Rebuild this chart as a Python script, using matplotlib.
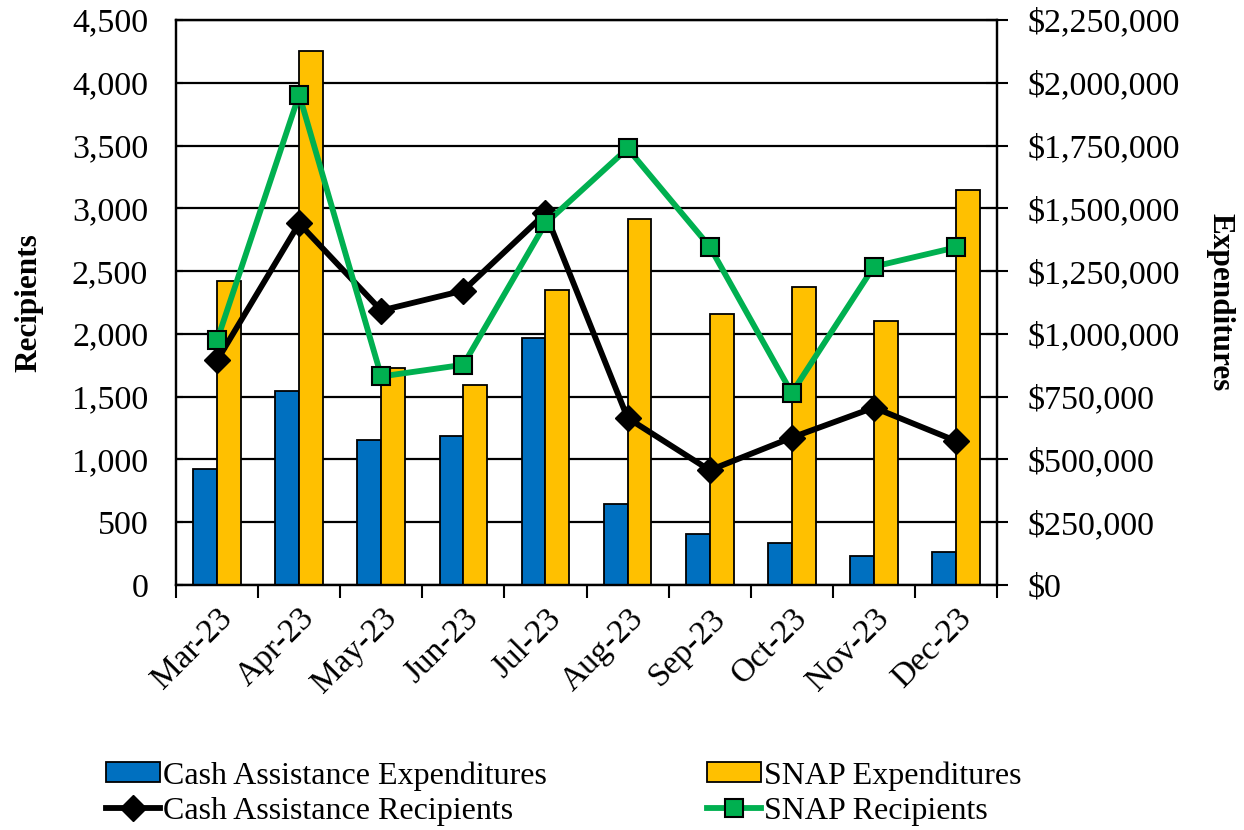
import numpy as np
import matplotlib
matplotlib.use("Agg")
import matplotlib.pyplot as plt
from matplotlib.ticker import FuncFormatter, MultipleLocator, FixedLocator
from matplotlib.lines import Line2D
from matplotlib.patches import Patch

plt.rcParams['font.family'] = ['Liberation Serif', 'DejaVu Serif']

months = ["Mar-23", "Apr-23", "May-23", "Jun-23", "Jul-23",
          "Aug-23", "Sep-23", "Oct-23", "Nov-23", "Dec-23"]
cash_exp = [461000, 771000, 576000, 593000, 982000,
            321000, 204000, 166000, 116000, 132000]
snap_exp = [1209000, 2125000, 865000, 798000, 1176000,
            1457000, 1078000, 1188000, 1050000, 1573000]
cash_rec = [1789, 2880, 2186, 2345, 2960, 1330, 914, 1174, 1413, 1147]
snap_rec = [1948, 3906, 1661, 1754, 2880, 3477, 2695, 1529, 2536, 2689]

BLUE = "#0070C0"
GOLD = "#FFC000"
GREEN = "#00B050"

fig = plt.figure(figsize=(12.44, 8.3), dpi=100)
ax = fig.add_axes([0.1415, 0.2952, 0.66, 0.6807])  # expenditures (bars)
ax2 = ax.twinx()  # recipients (lines)

x = np.arange(len(months))
w = 0.29
ax.bar(x - w / 2, cash_exp, w, color=BLUE, edgecolor="black", linewidth=1.3, zorder=2)
ax.bar(x + w / 2, snap_exp, w, color=GOLD, edgecolor="black", linewidth=1.3, zorder=2)
ax.set_ylim(0, 2250000)
ax.yaxis.set_major_locator(MultipleLocator(250000))
ax.yaxis.set_major_formatter(FuncFormatter(lambda v, p: "${:,.0f}".format(v)))
ax.yaxis.tick_right()
ax.yaxis.set_label_position("right")
ax.grid(axis="y", color="black", linewidth=1.6)
ax.set_axisbelow(True)
ax.set_xlim(-0.5, len(months) - 0.5)
ax.set_xticks(x)
ax.set_xticklabels(months, rotation=45, ha="right", rotation_mode="anchor", fontsize=24)
ax.tick_params(axis="x", which="major", length=0, pad=13)
ax.xaxis.set_minor_locator(FixedLocator(np.arange(-0.5, len(months), 1.0)))
ax.tick_params(axis="x", which="minor", length=9, width=1.5, direction="out")
ax.tick_params(axis="y", labelsize=24.5, length=16, width=1.5, direction="inout", pad=14)

ax2.plot(x, cash_rec, color="black", linewidth=4.2, marker="D", markersize=13,
         markerfacecolor="black", markeredgecolor="black", zorder=3)
ax2.plot(x, snap_rec, color=GREEN, linewidth=4.2, marker="s", markersize=13.5,
         markerfacecolor=GREEN, markeredgecolor="black", markeredgewidth=1.5, zorder=4)
ax2.set_ylim(0, 4500)
ax2.yaxis.set_major_locator(MultipleLocator(500))
ax2.yaxis.set_major_formatter(FuncFormatter(lambda v, p: "{:,.0f}".format(v)))
ax2.yaxis.tick_left()
ax2.yaxis.set_label_position("left")
ax2.tick_params(axis="y", labelsize=24.5, length=5, width=1.5, direction="in", pad=20)

for a in (ax, ax2):
    for s in a.spines.values():
        s.set_color("black")
        s.set_linewidth(1.6)

fig.text(0.023, 0.6355, "Recipients", rotation=90, fontsize=22.5, fontweight="bold",
         ha="center", va="center")
fig.text(0.981, 0.6355, "Expenditures", rotation=270, fontsize=22.5, fontweight="bold",
         ha="center", va="center")

handles = [
    Patch(facecolor=BLUE, edgecolor="black", linewidth=1.3),
    Line2D([0], [0], color="black", linewidth=4.2, marker="D", markersize=13),
    Patch(facecolor=GOLD, edgecolor="black", linewidth=1.3),
    Line2D([0], [0], color=GREEN, linewidth=4.2, marker="s", markersize=13.5,
           markerfacecolor=GREEN, markeredgecolor="black", markeredgewidth=1.5),
]
labels = ["Cash Assistance Expenditures", "Cash Assistance Recipients",
          "SNAP Expenditures", "SNAP Recipients"]
fig.legend(handles, labels, ncol=2, loc="center left", bbox_to_anchor=(0.072, 0.044),
           frameon=False, fontsize=23, handlelength=1.7, handleheight=0.6,
           handletextpad=0.1, columnspacing=5.0, labelspacing=0.2, borderpad=0)

fig.savefig("out.png", dpi=100)
